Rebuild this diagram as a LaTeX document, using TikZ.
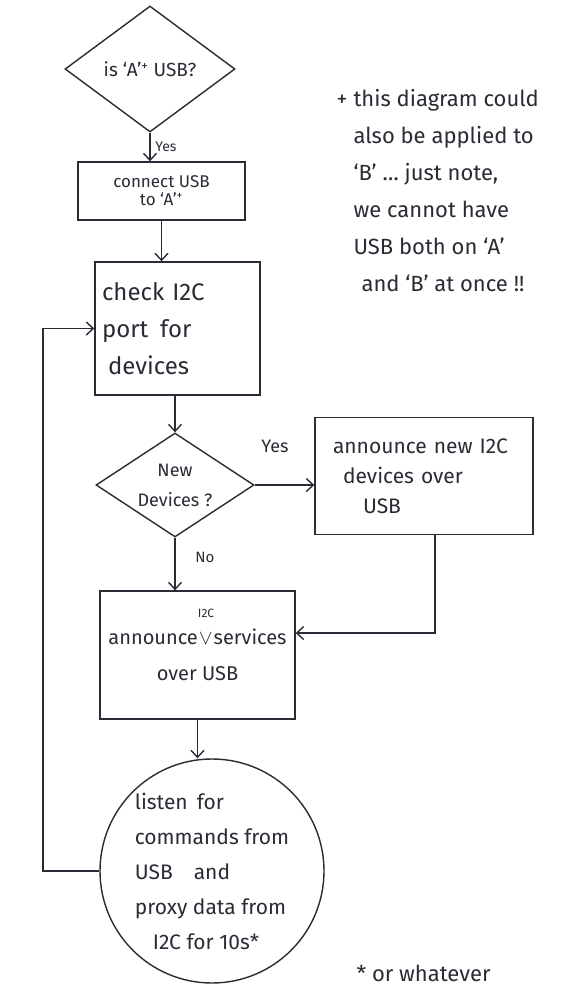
\documentclass[tikz,border=0pt]{standalone}
\usepackage{fontspec}
\setmainfont{Fira Sans}
\usetikzlibrary{shapes.geometric,arrows.meta,calc}
\definecolor{ink}{HTML}{2B2B35}
\begin{document}
\begin{tikzpicture}[x=1pt,y=-1pt,
  every node/.style={text=ink},
  line/.style={draw=ink,line width=1.4pt},
  arr/.style={line,-{Straight Barb[length=7pt,width=13pt,line width=1.4pt]}},
  box/.style={line,rectangle,inner sep=0pt},
  dia/.style={line,diamond,inner sep=0pt},
  fs/.style 2 args={font=\fontsize{#1}{#2}\selectfont}]
\fill[white] (0,0) rectangle (579,989);
\useasboundingbox (0,0) rectangle (579,989);
% nodes
\node[dia,shape aspect=1.35,minimum width=170pt,minimum height=126pt,fs={19}{22}] (d1) at (150,69) {is ‘A’\textsuperscript{+} USB?};
\node[box,minimum width=167pt,minimum height=58pt,align=center,fs={17}{18}] (b2) at (161.5,191) {connect USB\\to ‘A’\textsuperscript{+}};
\node[box,minimum width=165pt,minimum height=133pt,text width=151pt,inner xsep=7pt,align=left,fs={24}{37}] (b3) at (177.5,328.5) {check I2C\\port\, for\\\hspace*{6pt}devices};
\node[dia,shape aspect=1.5,minimum width=158pt,minimum height=104pt,align=center,fs={18}{30}] (d2) at (175,485) {New\\Devices ?};
\node[box,minimum width=218pt,minimum height=117pt,text width=182pt,inner xsep=18pt,align=left,fs={21}{30}] (b4) at (424,476) {announce new I2C\\\hspace*{10pt}devices over\\\hspace*{30pt}USB};
\node[box,minimum width=195pt,minimum height=128pt,align=center,fs={20}{36}] (b5) at (197.5,655) {announce\hspace{1pt}$\vee$\hspace{1pt}services\\over USB};
\node[fs={12}{12},inner sep=0pt] (ins) at (206,613) {I2C};
\node[line,circle,minimum size=224pt,inner sep=0pt,align=left,fs={21}{35}] (c) at (212,871) {listen\, for\\commands from\\USB\quad and\\proxy data from\\\hspace*{18pt}I2C for 10s*};
% labels
\node[fs={14}{14}] (ly1) at (166,147) {Yes};
\node[fs={18}{18}] (ly2) at (275,446) {Yes};
\node[fs={15}{15}] (ln) at (205,557) {No};
% notes
\node[anchor=north west,align=left,fs={22}{37}] (note) at (350,86) {\llap{+ }this diagram could\\also be applied to\\‘B’ \dots\ just note,\\we cannot have\\USB both on ‘A’\\\hspace*{8pt}and ‘B’ at once !!};
\node[anchor=west,fs={22}{22}] (foot) at (353,973) {* or whatever};
% connectors
\coordinate (e4) at (435,0);
\coordinate (lp) at (43,0);
\draw[arr] (d1.south) -- (d1.south |- b2.north);
\draw[arr] (b2.south) -- (b2.south |- b3.north);
\draw[arr] (d2.north |- b3.south) -- (d2.north);
\draw[arr] (d2.east) -- (d2.east -| b4.west);
\draw[arr] (d2.south) -- (d2.south |- b5.north);
\draw[arr] (b4.south -| e4) |- ($(b5.east)+(0,-22)$);
\draw[arr] (b5.south) -- (b5.south |- c.north);
\draw[arr] (c.west) -- (c.west -| lp) |- (b3.west);
\end{tikzpicture}
\end{document}
